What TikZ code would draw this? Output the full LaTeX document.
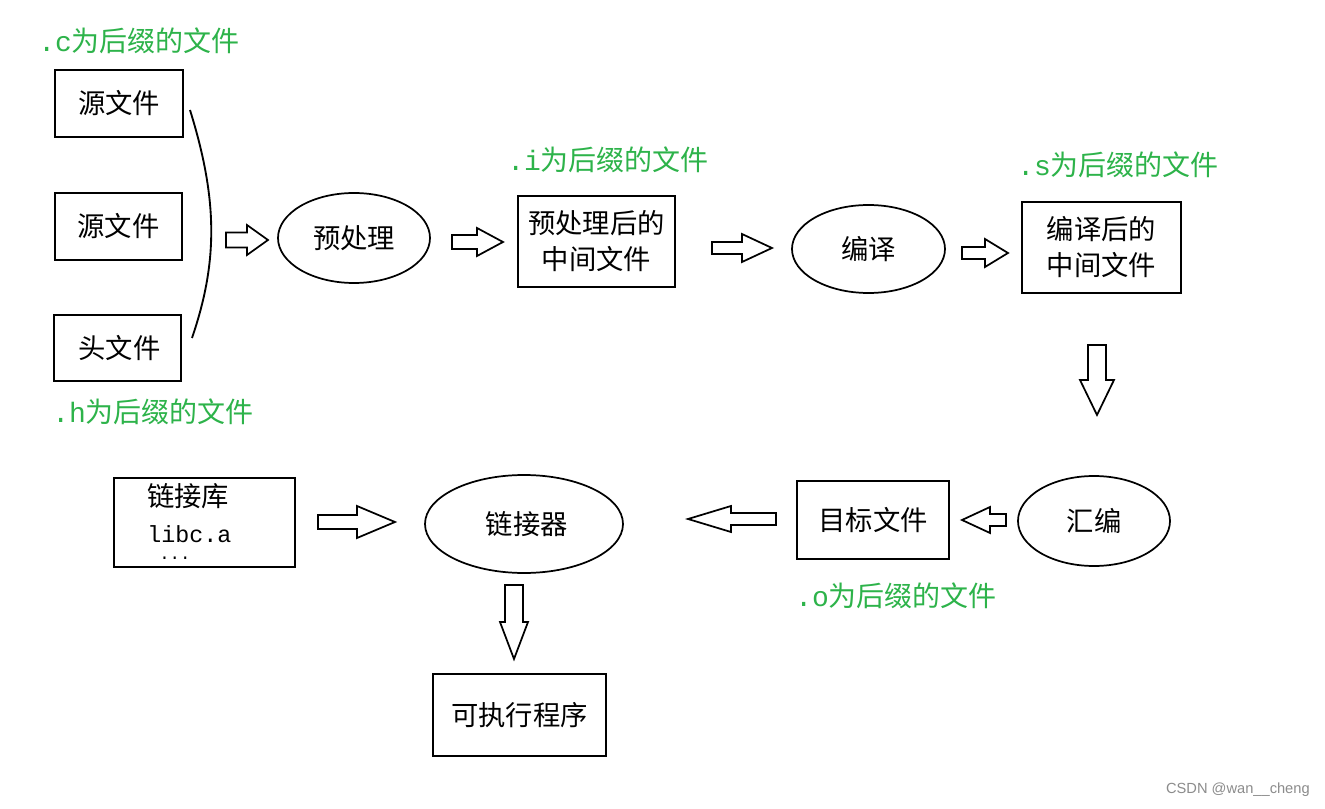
\documentclass[tikz,border=0pt]{standalone}
\usepackage{fontspec}
\setmainfont{Liberation Serif}
\newfontfamily\cjk{Noto Sans CJK SC}
\newfontfamily\mono{Liberation Mono}
\newfontfamily\wmfont{Liberation Sans}
\usetikzlibrary{shapes.geometric}
\definecolor{lblgreen}{RGB}{45,179,74}
\newcommand{\blockarrow}[7]{% x, y (start), angle, length, shaft half, head half, head length
  \begin{scope}[shift={(#1,#2)},rotate=#3]
    \draw[blk] (0,-#5) -- (#4-#7,-#5) -- (#4-#7,-#6) -- (#4,0) -- (#4-#7,#6) -- (#4-#7,#5) -- (0,#5) -- cycle;
  \end{scope}}
\begin{document}
\begin{tikzpicture}[x=0.75pt,y=-0.75pt,
  box/.style={draw,line width=1.4pt,rectangle,inner sep=0pt,font=\cjk\fontsize{20.5}{27}\selectfont,align=center},
  ell/.style={draw,line width=1.3pt,ellipse,inner sep=0pt,font=\cjk\fontsize{20.5}{27}\selectfont},
  lbl/.style={text=lblgreen,anchor=west,inner sep=0pt,font=\cjk\fontsize{21}{24}\selectfont},
  blk/.style={line width=1.3pt,line join=miter,fill=white}]
\useasboundingbox (0,0) rectangle (1325,809);
\fill[white] (0,0) rectangle (1325,809);
% source boxes
\node[box,minimum width=96pt,minimum height=50.25pt] (src1) at (119,103.5) {源文件};
\node[box,minimum width=95.25pt,minimum height=50.25pt] (src2) at (118.5,226.5) {源文件};
\node[box,minimum width=95.25pt,minimum height=49.5pt] (hdr) at (117.5,348) {\hspace{3pt}头文件};
\node[lbl] (lc) at (38,41) {{\mono .c}为后缀的文件};
\node[lbl] (lh) at (52,412) {{\mono .h}为后缀的文件};
% brace curve
\coordinate (ct) at (190,110);
\coordinate (cb) at (192,338);
\draw[line width=1.4pt] (ct) .. controls (218,200) and (218,262) .. (cb);
% preprocess
\node[ell,minimum width=114pt,minimum height=67.5pt] (pre) at (354,238) {预处理};
\node[box,minimum width=117.75pt,minimum height=68.25pt] (ifile) at (596.5,241.5) {预处理后的\\中间文件};
\node[lbl] (li) at (507,160) {{\mono .i}为后缀的文件};
% compile
\node[ell,minimum width=114.75pt,minimum height=66pt] (comp) at (868.5,249) {编译};
\node[box,minimum width=119.25pt,minimum height=68.25pt] (sfile) at (1101.5,247.5) {编译后的\\中间文件};
\node[lbl] (ls) at (1017,165) {{\mono .s}为后缀的文件};
% assemble
\node[ell,minimum width=114pt,minimum height=67.5pt] (asm) at (1094,521) {汇编};
\node[box,minimum width=114pt,minimum height=58.5pt] (ofile) at (873,520) {目标文件};
\node[lbl] (lo) at (795,596) {{\mono .o}为后缀的文件};
% linker
\node[ell,minimum width=148.5pt,minimum height=73.5pt] (lnk) at (524,524) {\hspace{4pt}链接器};
\node[box,minimum width=135.75pt,minimum height=66.75pt] (lib) at (204.5,522.5) {};
\node[anchor=west,inner sep=0pt,font=\cjk\fontsize{20.5}{22}\selectfont] (libt1) at (147,496) {链接库};
\node[anchor=base west,inner sep=0pt,font=\mono\fontsize{17.5}{20}\selectfont] (libt2) at (147,542) {libc.a};
\node[anchor=base west,inner sep=0pt,font=\mono\fontsize{13}{14}\selectfont] (libt3) at (159,559) {...};
\node[box,minimum width=129.75pt,minimum height=61.5pt] (exe) at (519.5,715) {可执行程序};
% block arrows
\blockarrow{226}{240}{0}{42}{7.5}{15}{21}
\blockarrow{452}{242}{0}{51}{7}{14}{26}
\blockarrow{712}{248}{0}{60}{6}{14}{30}
\blockarrow{962}{253}{0}{46}{6}{14}{23}
\blockarrow{1097}{345}{-90}{70}{9}{17}{35}
\blockarrow{1006}{520}{180}{44}{6}{13}{28}
\blockarrow{776}{519}{180}{88}{6}{13}{43}
\blockarrow{318}{522}{0}{77}{7}{16}{38}
\blockarrow{514}{585}{-90}{74}{9}{14}{37}
% watermark
\node[anchor=east,inner sep=0pt,text=black!45,font=\wmfont\fontsize{11}{13}\selectfont] (wm) at (1310,790) {CSDN @wan\_\_cheng};
\end{tikzpicture}
\end{document}
